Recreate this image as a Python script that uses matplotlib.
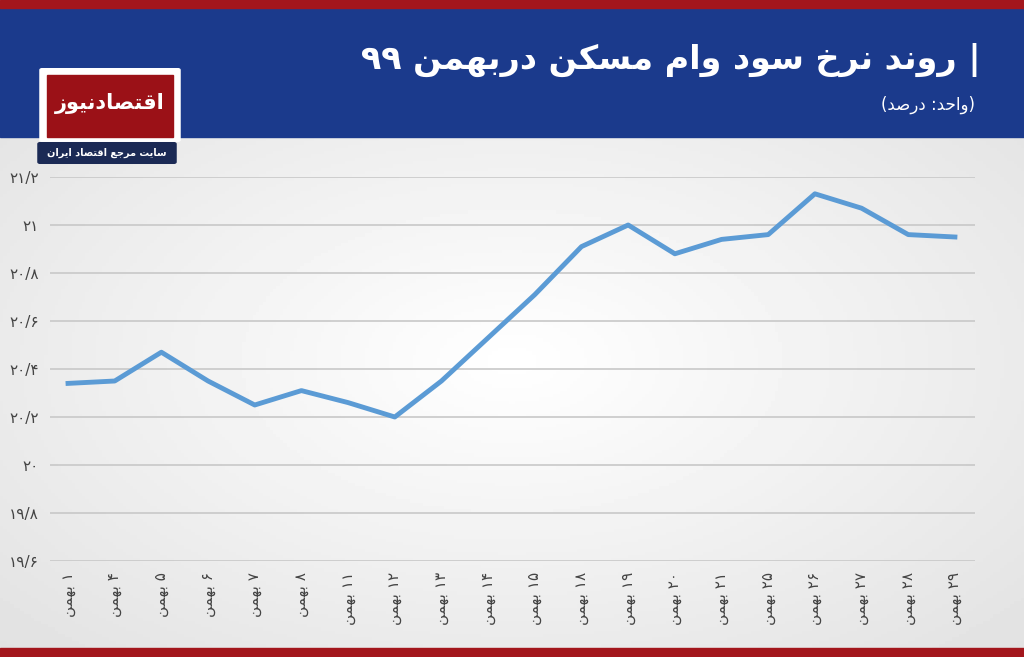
import numpy as np
import matplotlib.pyplot as plt
from matplotlib.patches import Rectangle, FancyBboxPatch

days = ["۱", "۴", "۵", "۶", "۷", "۸", "۱۱", "۱۲", "۱۳", "۱۴", "۱۵", "۱۸", "۱۹", "۲۰",
        "۲۱", "۲۵", "۲۶", "۲۷", "۲۸", "۲۹"]
rates = [20.34, 20.35, 20.47, 20.35, 20.25, 20.31, 20.26, 20.20, 20.35, 20.53,
         20.71, 20.91, 21.00, 20.88, 20.94, 20.96, 21.13, 21.07, 20.96, 20.95]
yticks = [19.6, 19.8, 20.0, 20.2, 20.4, 20.6, 20.8, 21.0, 21.2]

# simple arabic shaping: isolated, final, initial, medial
FORMS = {
    "ا": (0xFE8D, 0xFE8E, None, None), "ب": (0xFE8F, 0xFE90, 0xFE91, 0xFE92),
    "ت": (0xFE95, 0xFE96, 0xFE97, 0xFE98), "ج": (0xFE9D, 0xFE9E, 0xFE9F, 0xFEA0),
    "ح": (0xFEA1, 0xFEA2, 0xFEA3, 0xFEA4), "خ": (0xFEA5, 0xFEA6, 0xFEA7, 0xFEA8),
    "د": (0xFEA9, 0xFEAA, None, None), "ر": (0xFEAD, 0xFEAE, None, None),
    "ز": (0xFEAF, 0xFEB0, None, None), "س": (0xFEB1, 0xFEB2, 0xFEB3, 0xFEB4),
    "ص": (0xFEB9, 0xFEBA, 0xFEBB, 0xFEBC), "ع": (0xFEC9, 0xFECA, 0xFECB, 0xFECC),
    "ق": (0xFED5, 0xFED6, 0xFED7, 0xFED8), "م": (0xFEE1, 0xFEE2, 0xFEE3, 0xFEE4),
    "ن": (0xFEE5, 0xFEE6, 0xFEE7, 0xFEE8), "ه": (0xFEE9, 0xFEEA, 0xFEEB, 0xFEEC),
    "و": (0xFEED, 0xFEEE, None, None), "ک": (0xFB8E, 0xFB8F, 0xFB90, 0xFB91),
    "ی": (0xFBFC, 0xFBFD, 0xFBFE, 0xFBFF),
}
DIGITS = set("۰۱۲۳۴۵۶۷۸۹0123456789/")


def fa(s):
    out = []
    for i, c in enumerate(s):
        if c not in FORMS:
            out.append(c)
            continue
        prev = s[i - 1] if i > 0 else ""
        nxt = s[i + 1] if i + 1 < len(s) else ""
        join_prev = prev in FORMS and FORMS[prev][2] is not None
        join_next = nxt in FORMS and FORMS[c][2] is not None
        f = FORMS[c]
        if join_prev and join_next:
            code = f[3]
        elif join_prev:
            code = f[1]
        elif join_next:
            code = f[2]
        else:
            code = f[0]
        out.append(chr(code))
    vis = "".join(out)[::-1]
    vis = vis.translate(str.maketrans("()", ")("))
    # put digit runs back in order
    res, run = [], ""
    for c in vis:
        if c in DIGITS:
            run += c
        else:
            res.append(run[::-1]); run = ""
            res.append(c)
    res.append(run[::-1])
    return "".join(res)


def num(v):
    s = f"{v:.1f}".rstrip("0").rstrip(".")
    return s.translate(str.maketrans("0123456789.", "۰۱۲۳۴۵۶۷۸۹/"))


plt.rcParams["font.family"] = ["DejaVu Sans"]
fig = plt.figure(figsize=(10.24, 6.57), dpi=100)

# background gradient
bg = fig.add_axes([0, 0, 1, 1], zorder=-2)
yy, xx = np.mgrid[0:1:200j, 0:1:300j]
r = np.sqrt(((xx - 0.5) / 0.8) ** 2 + ((yy - 0.55) / 0.7) ** 2)
bg.imshow(1 - 0.13 * np.clip(r, 0, 1), cmap="gray", vmin=0, vmax=1, extent=[0, 1, 0, 1],
          aspect="auto")
bg.axis("off")
bg.set_xlim(0, 1); bg.set_ylim(0, 1)

# header and strips
fig.patches.append(Rectangle((0, 1 - 137 / 657), 1, 129 / 657, transform=fig.transFigure,
                             color="#1b3a8c", zorder=-1))
fig.patches.append(Rectangle((0, 1 - 8 / 657), 1, 8 / 657, transform=fig.transFigure,
                             color="#a3161c", zorder=-1))
fig.patches.append(Rectangle((0, 0), 1, 9 / 657, transform=fig.transFigure,
                             color="#a3161c", zorder=-1))
fig.text(0.958, 1 - 60 / 657, fa("روند نرخ سود وام مسکن دربهمن ۹۹") + " |",
         color="white", fontsize=24, fontweight="bold", ha="right", va="center")
fig.text(0.952, 1 - 105 / 657, fa("(واحد: درصد)"), color="white", fontsize=12,
         ha="right", va="center")

# logo
fig.patches.append(FancyBboxPatch((42 / 1024, 1 - 140 / 657), 136 / 1024, 70 / 657,
                                  boxstyle="round,pad=0.002", transform=fig.transFigure,
                                  color="white", zorder=1))
fig.patches.append(Rectangle((47 / 1024, 1 - 137 / 657), 126 / 1024, 62 / 657,
                             transform=fig.transFigure, color="#9b1117", zorder=2))
fig.patches.append(FancyBboxPatch((40 / 1024, 1 - 162 / 657), 134 / 1024, 18 / 657,
                                  boxstyle="round,pad=0.002", transform=fig.transFigure,
                                  color="#1b2a55", zorder=2))
fig.text(110 / 1024, 1 - 104 / 657, fa("اقتصادنیوز"), color="white", fontsize=15,
         fontweight="bold", ha="center", va="center", zorder=3)
fig.text(107 / 1024, 1 - 153 / 657, fa("سایت مرجع اقتصاد ایران"), color="white", fontsize=7,
         fontweight="bold", ha="center", va="center", zorder=3)

ax = fig.add_axes([50 / 1024, 1 - 561 / 657, 925 / 1024, 384 / 657])
ax.patch.set_alpha(0)
x = np.arange(len(days))
ax.plot(x, rates, color="#5b9bd5", lw=3.5, solid_joinstyle="round")
ax.set_ylim(19.6, 21.2)
ax.set_xlim(-0.386, len(days) - 1 + 0.43)
ax.set_yticks(yticks)
ax.set_yticklabels([num(v) for v in yticks], fontsize=11, color="#444444")
ax.set_xticks(x)
ax.set_xticklabels([fa(d + " بهمن") for d in days], rotation=90, fontsize=11,
                   color="#444444")
ax.grid(axis="y", color="#c8c8c8", lw=1.2)
ax.tick_params(length=0, pad=8)
for s in ax.spines.values():
    s.set_visible(False)

fig.savefig("out.png", dpi=100)
